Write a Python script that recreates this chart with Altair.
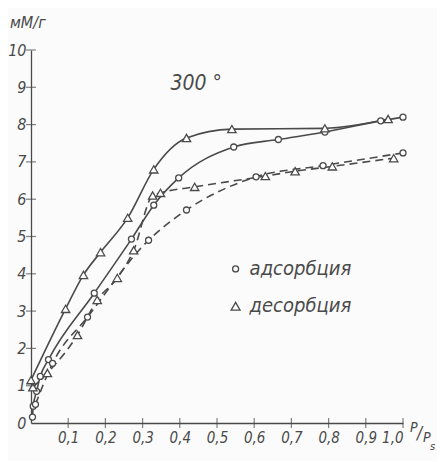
import altair as alt
import pandas as pd

# Adsorption (solid curve, circles)
ads1_x = [0.004, 0.006, 0.015, 0.025, 0.047, 0.17, 0.27, 0.33, 0.397, 0.545, 0.665, 0.79, 0.94, 1.0]
ads1_y = [0.16, 0.45, 0.85, 1.25, 1.7, 3.48, 4.93, 5.84, 6.57, 7.4, 7.6, 7.8, 8.1, 8.2]
# Desorption (solid curve, triangles)
des1_x = [0.0, 0.093, 0.141, 0.187, 0.26, 0.33, 0.418, 0.54, 0.79, 0.96]
des1_y = [1.15, 3.06, 3.97, 4.58, 5.5, 6.8, 7.64, 7.88, 7.9, 8.15]
# Adsorption (dashed curve, circles)
ads2_x = [0.012, 0.058, 0.152, 0.316, 0.418, 0.605, 0.785, 1.0]
ads2_y = [0.5, 1.6, 2.84, 4.9, 5.71, 6.6, 6.9, 7.24]
# Desorption (dashed curve, triangles)
des2_x = [0.005, 0.044, 0.125, 0.178, 0.232, 0.276, 0.327, 0.348, 0.44, 0.63, 0.71, 0.81, 0.975]
des2_y = [0.96, 1.34, 2.36, 3.3, 3.89, 4.63, 6.1, 6.17, 6.33, 6.62, 6.75, 6.88, 7.1]

x_ticks = [0.1, 0.2, 0.3, 0.4, 0.5, 0.6, 0.7, 0.8, 0.9, 1.0]
y_ticks = [0, 1, 2, 3, 4, 5, 6, 7, 8, 9, 10]

rows = []
for name, xs_, ys_, mk, dash in [("a1", ads1_x, ads1_y, "o", "solid"),
                                 ("d1", des1_x, des1_y, "t", "solid"),
                                 ("a2", ads2_x, ads2_y, "o", "dash"),
                                 ("d2", des2_x, des2_y, "t", "dash")]:
    for i, (a, b) in enumerate(zip(xs_, ys_)):
        rows.append({"s": name, "x": a, "y": b, "m": mk, "d": dash, "o": i})
df = pd.DataFrame(rows)

INK = "#4a4a4a"
FONT = "DejaVu Sans Condensed, Liberation Sans Narrow, sans-serif"

xs = alt.Scale(domain=[0, 1.0], nice=False)
ys = alt.Scale(domain=[0, 10], nice=False)

X_AX = alt.Axis(values=x_ticks, labelExpr="replace(format(datum.value, '.1f'), '.', ',')",
                title=None, grid=False, tickSize=0, domainColor=INK, domainWidth=1.3,
                labelFont=FONT, labelFontStyle="italic", labelFontSize=15, labelColor=INK,
                labelPadding=7, labelOverlap=False)
Y_AX = alt.Axis(values=y_ticks, title=None, grid=False, tickSize=0,
                domainColor=INK, domainWidth=1.3,
                labelFont=FONT, labelFontStyle="italic", labelFontSize=16, labelColor=INK,
                labelPadding=5, labelOverlap=False)


def X():
    return alt.X("x:Q", scale=xs, axis=X_AX)


def Y():
    return alt.Y("y:Q", scale=ys, axis=Y_AX)


base = alt.Chart(df)

solid = base.transform_filter(alt.datum.d == "solid").mark_line(
    interpolate="monotone", color=INK, strokeWidth=1.6).encode(x=X(), y=Y(), detail="s:N", order="o:Q")
dashed = base.transform_filter(alt.datum.d == "dash").mark_line(
    interpolate="monotone", color=INK, strokeWidth=1.6, strokeDash=[8, 5]).encode(x=X(), y=Y(), detail="s:N", order="o:Q")
circles = base.transform_filter(alt.datum.m == "o").mark_point(
    shape="circle", filled=True, fill="white", stroke=INK, strokeWidth=1.3, size=36, opacity=1).encode(x=X(), y=Y())
tris = base.transform_filter(alt.datum.m == "t").mark_point(
    shape="triangle-up", filled=True, fill="white", stroke=INK, strokeWidth=1.3, size=70, opacity=1).encode(x=X(), y=Y())

xt = alt.Chart(pd.DataFrame({"x": x_ticks})).mark_tick(color=INK, thickness=1.2, size=10).encode(
    x=X(), y=alt.value(373))
yt = alt.Chart(pd.DataFrame({"y": y_ticks[1:]})).mark_tick(color=INK, thickness=1.2, size=10).encode(
    y=Y(), x=alt.value(0))

leg_df = pd.DataFrame({"x": [0.55, 0.55], "y": [4.13, 3.13], "m": ["o", "t"],
                       "t": ["адсорбция", "десорбция"]})
leg_c = alt.Chart(leg_df).transform_filter(alt.datum.m == "o").mark_point(
    shape="circle", stroke=INK, strokeWidth=1.3, size=36, opacity=1).encode(x=X(), y=Y())
leg_t = alt.Chart(leg_df).transform_filter(alt.datum.m == "t").mark_point(
    shape="triangle-up", stroke=INK, strokeWidth=1.3, size=80, opacity=1).encode(x=X(), y=Y())
leg_txt = alt.Chart(leg_df).mark_text(align="left", baseline="middle", dx=14, font=FONT, fontStyle="italic",
                                       fontSize=20, color=INK).encode(x=X(), y=Y(), text="t:N")

ann = pd.DataFrame({"t": ["300 °"], "x": [0.375], "y": [9.1]})
title = alt.Chart(ann).mark_text(align="left", baseline="middle", font=FONT, fontStyle="italic",
                                 fontSize=21, color=INK).encode(x=X(), y=Y(), text="t:N")


def label(t, x, y, size):
    return alt.Chart(pd.DataFrame({"t": [t]})).mark_text(
        align="left", baseline="middle", font=FONT, fontStyle="italic", fontSize=size, color=INK).encode(
        x=alt.value(x), y=alt.value(y), text="t:N")


ylab = label("мМ/г", -21, -27, 16)
xlab1 = label("P", 379, 378, 14)
xlab2 = label("/", 386, 384, 17)
xlab3 = label("P", 392, 388, 14)
xlab4 = label("s", 399, 397, 11)

chart = alt.layer(solid, dashed, circles, tris, xt, yt, leg_c, leg_t, leg_txt, title,
                  ylab, xlab1, xlab2, xlab3, xlab4).properties(
    width=372, height=373, padding={"left": 23, "top": 42, "right": 34, "bottom": 38},
    autosize=alt.AutoSizeParams(type="none"),
    background="#fbfbfb"
).configure_view(stroke=None)

chart.save("out.html", embed_options={"renderer": "svg", "actions": False})
